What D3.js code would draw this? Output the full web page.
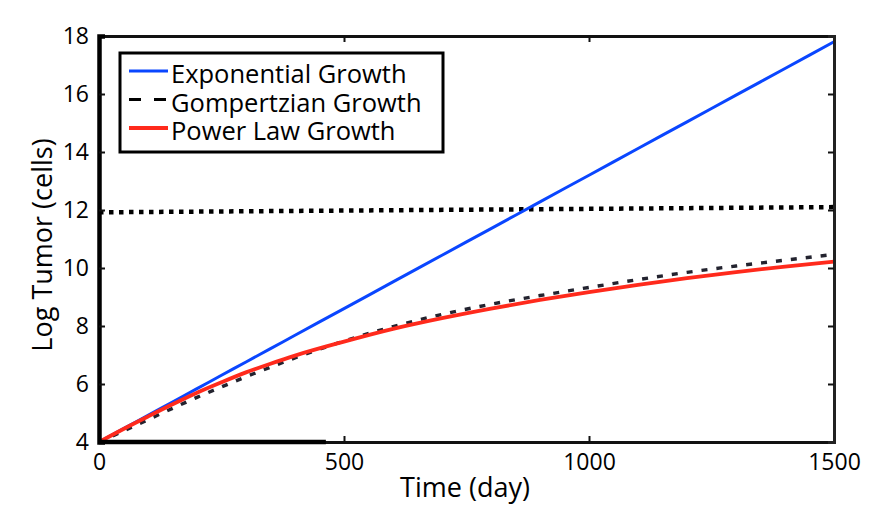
<!DOCTYPE html>
<html>
<head>
<meta charset="utf-8">
<script src="https://cdn.jsdelivr.net/npm/d3@7"></script>
<style>
  html, body { margin: 0; padding: 0; background: #ffffff; }
  svg { display: block; font-family: "Open Sans", "Liberation Sans", sans-serif; }
</style>
</head>
<body>
<svg id="chart" width="876" height="506"></svg>
<script>
// Time points (days) and log tumor size for each growth model
const days = [0, 50, 100, 150, 200, 250, 300, 350, 400, 500, 600, 700, 800, 900, 1000, 1100, 1200, 1300, 1400, 1500];
const exponential = [4.0, 4.46, 4.92, 5.38, 5.84, 6.3, 6.76, 7.22, 7.68, 8.6, 9.52, 10.44, 11.36, 12.28, 13.2, 14.12, 15.04, 15.96, 16.88, 17.8];
const gompertzian = [4.0, 4.38, 4.77, 5.16, 5.54, 5.9, 6.25, 6.58, 6.9, 7.48, 7.98, 8.4, 8.75, 9.05, 9.33, 9.6, 9.85, 10.07, 10.27, 10.47];
const powerLaw = [4.0, 4.45, 4.88, 5.3, 5.7, 6.06, 6.4, 6.7, 6.98, 7.46, 7.9, 8.27, 8.6, 8.9, 9.17, 9.42, 9.65, 9.86, 10.05, 10.22];

// Horizontal reference level (dotted)
const thresholdDays = [0, 1500];
const thresholdLevel = [11.92, 12.1];

const xTicks = [0, 500, 1000, 1500];
const yTicks = [4, 6, 8, 10, 12, 14, 16, 18];

const legendLabels = ["Exponential Growth", "Gompertzian Growth", "Power Law Growth"];

const W = 876, H = 506;
const margin = { top: 36, right: 42, bottom: 64, left: 99 };

const svg = d3.select("#chart");
svg.append("rect").attr("width", W).attr("height", H).attr("fill", "#ffffff");

const x = d3.scaleLinear().domain([0, 1500]).range([margin.left, W - margin.right]);
const y = d3.scaleLinear().domain([4, 18]).range([H - margin.bottom, margin.top]);

const line = (xs, ys) => d3.line()
  .x((d, i) => x(xs[i]))
  .y(d => y(d))
  .curve(d3.curveMonotoneX)(ys);

// Series
svg.append("path")
  .attr("d", line(thresholdDays, thresholdLevel))
  .attr("fill", "none").attr("stroke", "#000").attr("stroke-width", 4.5)
  .attr("stroke-dasharray", "4.5,5.5");

svg.append("path")
  .attr("d", line(days, exponential))
  .attr("fill", "none").attr("stroke", "#0a46ff").attr("stroke-width", 3);

svg.append("path")
  .attr("d", line(days, gompertzian))
  .attr("fill", "none").attr("stroke", "#23232f").attr("stroke-width", 3.4)
  .attr("stroke-dasharray", "6,9");

svg.append("path")
  .attr("d", line(days, powerLaw))
  .attr("fill", "none").attr("stroke", "#ff2a1c").attr("stroke-width", 3.8);

// Axes with inward ticks
const fontSize = 23;
const axisStyle = g => {
  g.selectAll(".tick line").attr("stroke", "#111").attr("stroke-width", 2);
  g.selectAll(".tick text").attr("fill", "#000").attr("font-size", fontSize).attr("font-family", "'Open Sans', sans-serif");
};

const gx = svg.append("g").attr("transform", `translate(0,${H - margin.bottom})`)
  .call(d3.axisBottom(x).tickValues(xTicks).tickSize(-6).tickPadding(12).tickFormat(d3.format("d")));
gx.select(".domain").attr("stroke", "#111").attr("stroke-width", 3);
gx.call(axisStyle);
gx.selectAll(".tick").filter(d => d === 0 || d === 1500).select("line").remove();

const gxTop = svg.append("g").attr("transform", `translate(0,${margin.top})`)
  .call(d3.axisTop(x).tickValues(xTicks).tickSize(-6).tickFormat(""));
gxTop.select(".domain").attr("stroke", "#111").attr("stroke-width", 3);
gxTop.call(axisStyle);
gxTop.selectAll(".tick").filter(d => d === 0 || d === 1500).select("line").remove();

const gy = svg.append("g").attr("transform", `translate(${margin.left},0)`)
  .call(d3.axisLeft(y).tickValues(yTicks).tickSize(-6).tickPadding(10));
gy.select(".domain").attr("stroke", "#000").attr("stroke-width", 4.5);
gy.call(axisStyle);
gy.selectAll(".tick").filter(d => d === 4 || d === 18).select("line").remove();

const gyRight = svg.append("g").attr("transform", `translate(${W - margin.right},0)`)
  .call(d3.axisRight(y).tickValues(yTicks).tickSize(-6).tickFormat(""));
gyRight.select(".domain").attr("stroke", "#222").attr("stroke-width", 3);
gyRight.call(axisStyle);
gyRight.selectAll(".tick").filter(d => d === 4 || d === 18).select("line").remove();

// Heavier stroke along the first part of the time axis
svg.append("line")
  .attr("x1", x(0)).attr("x2", x(463))
  .attr("y1", y(4)).attr("y2", y(4))
  .attr("stroke", "#000").attr("stroke-width", 4.5);

// Axis titles
svg.append("text")
  .attr("x", 465).attr("y", 497)
  .attr("text-anchor", "middle").attr("font-size", 27).attr("fill", "#000")
  .text("Time (day)");

svg.append("text")
  .attr("transform", `translate(52,${(y(4) + y(18)) / 2 + 6}) rotate(-90)`)
  .attr("text-anchor", "middle").attr("font-size", 27).attr("fill", "#000")
  .text("Log Tumor (cells)");

// Legend
const legend = svg.append("g");
legend.append("rect")
  .attr("x", 120).attr("y", 53).attr("width", 323).attr("height", 99)
  .attr("fill", "#fff").attr("stroke", "#000").attr("stroke-width", 3);

const legendStyles = [
  { color: "#0a46ff", width: 3, dash: null },
  { color: "#000000", width: 3.2, dash: "12,13" },
  { color: "#ff2a1c", width: 3.8, dash: null }
];

legendLabels.forEach((label, i) => {
  const cy = 71 + i * 28.5;
  const s = legendStyles[i];
  const l = legend.append("line")
    .attr("x1", 129).attr("x2", 168).attr("y1", cy).attr("y2", cy)
    .attr("stroke", s.color).attr("stroke-width", s.width);
  if (s.dash) l.attr("stroke-dasharray", s.dash);
  legend.append("text")
    .attr("x", 171).attr("y", cy + 12)
    .attr("font-size", 25.5).attr("fill", "#000")
    .text(label);
});
</script>
</body>
</html>
